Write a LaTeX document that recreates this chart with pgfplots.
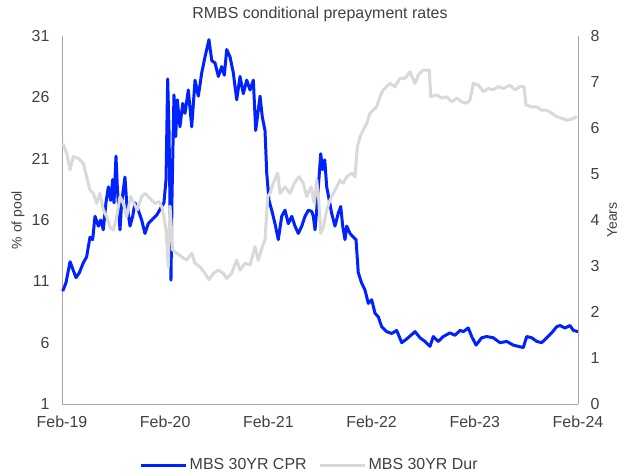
\documentclass[border=0pt]{standalone}
\usepackage{pgfplots}
\usepackage{pgfplotstable}
\pgfplotsset{compat=1.18}
\usepackage{fontspec}
\setmainfont{Liberation Sans}
\definecolor{cprblue}{RGB}{0,34,255}
\definecolor{durgray}{RGB}{217,217,217}
\definecolor{axgray}{RGB}{166,166,166}
\definecolor{txt}{RGB}{64,64,64}

\pgfplotstableread{
t v
0.007 10.2
0.039 10.9
0.078 12.6
0.109 11.9
0.136 11.3
0.168 11.7
0.206 12.5
0.239 13.0
0.271 14.6
0.297 14.4
0.320 16.3
0.352 15.5
0.375 16.0
0.400 15.2
0.426 17.4
0.449 18.7
0.472 17.6
0.491 19.3
0.504 17.4
0.523 21.2
0.536 18.7
0.562 15.2
0.578 17.4
0.610 19.5
0.627 17.4
0.659 15.5
0.685 16.3
0.707 17.4
0.739 16.8
0.772 16.0
0.804 14.9
0.836 15.7
0.869 16.0
0.918 16.4
0.966 17.1
0.988 17.4
1.008 19.3
1.024 27.5
1.037 23.3
1.056 11.1
1.066 17.9
1.085 26.2
1.102 22.8
1.117 25.8
1.143 23.6
1.170 25.5
1.192 24.7
1.224 26.6
1.257 23.6
1.289 27.4
1.321 26.1
1.354 28.0
1.386 29.3
1.424 30.7
1.451 29.0
1.483 28.8
1.515 27.7
1.547 28.5
1.573 27.8
1.596 29.9
1.628 29.3
1.660 28.0
1.693 25.8
1.725 27.7
1.757 26.3
1.790 27.4
1.822 26.6
1.854 27.4
1.877 23.3
1.919 26.1
1.941 24.4
1.967 23.3
1.984 19.8
2.006 17.6
2.032 16.8
2.064 15.7
2.096 14.4
2.129 16.3
2.161 16.8
2.193 15.7
2.226 16.3
2.258 15.5
2.290 14.9
2.323 15.5
2.355 16.3
2.387 16.8
2.420 16.7
2.435 16.3
2.452 15.2
2.468 16.8
2.507 21.4
2.526 20.1
2.546 20.9
2.565 18.7
2.590 17.6
2.613 16.55
2.645 15.5
2.677 16.55
2.701 17.1
2.720 15.5
2.742 14.4
2.759 15.5
2.791 14.9
2.823 14.6
2.849 14.4
2.871 11.7
2.904 10.85
2.936 10.3
2.968 9.2
3.001 9.5
3.033 8.4
3.065 8.1
3.098 7.3
3.146 6.9
3.195 6.75
3.243 7.0
3.292 6.0
3.340 6.3
3.421 6.9
3.469 6.4
3.517 6.1
3.566 5.7
3.598 6.5
3.646 6.1
3.695 6.5
3.760 6.8
3.808 6.6
3.857 7.0
3.889 6.9
3.937 7.2
3.970 6.5
4.012 5.8
4.067 6.4
4.115 6.5
4.179 6.4
4.244 6.0
4.309 6.1
4.373 5.8
4.421 5.7
4.470 5.6
4.503 6.5
4.551 6.4
4.600 6.1
4.648 6.0
4.697 6.4
4.745 6.8
4.793 7.3
4.826 7.4
4.874 7.2
4.922 7.4
4.955 7.0
5.000 6.9
}\cprdata

\pgfplotstableread{
t v
0.007 5.67
0.046 5.45
0.078 5.09
0.109 5.38
0.158 5.34
0.206 5.23
0.239 4.94
0.271 4.65
0.303 4.58
0.336 4.36
0.368 4.58
0.400 4.22
0.433 4.07
0.465 3.85
0.497 3.78
0.530 4.07
0.562 4.51
0.594 4.36
0.627 4.07
0.666 4.51
0.698 4.36
0.730 4.22
0.772 4.51
0.804 4.58
0.853 4.47
0.901 4.36
0.943 4.40
0.966 4.29
0.988 4.07
1.008 3.78
1.030 2.98
1.047 4.30
1.073 3.35
1.111 3.28
1.160 3.20
1.208 3.13
1.257 3.28
1.289 3.06
1.337 2.98
1.386 2.84
1.424 2.70
1.466 2.84
1.515 2.91
1.563 2.84
1.596 2.73
1.644 2.84
1.693 3.13
1.725 2.91
1.773 3.06
1.822 3.02
1.870 3.42
1.902 3.13
1.941 3.42
1.967 3.57
1.993 4.51
2.016 4.58
2.047 4.80
2.090 5.02
2.112 4.58
2.161 4.72
2.209 4.58
2.251 4.80
2.297 4.94
2.338 4.80
2.371 4.51
2.413 4.72
2.445 4.36
2.468 4.87
2.486 4.50
2.507 3.71
2.532 3.85
2.565 4.22
2.597 4.43
2.629 4.58
2.662 4.72
2.694 4.87
2.726 4.80
2.759 4.94
2.807 5.02
2.839 4.94
2.862 5.59
2.888 5.81
2.920 5.96
2.953 6.10
2.984 6.32
3.016 6.39
3.049 6.46
3.081 6.68
3.113 6.83
3.146 6.90
3.178 6.97
3.227 6.90
3.275 7.08
3.324 7.08
3.372 7.22
3.421 6.97
3.452 7.15
3.501 7.26
3.559 7.26
3.573 6.68
3.631 6.72
3.679 6.65
3.728 6.68
3.776 6.57
3.825 6.65
3.873 6.57
3.922 6.54
3.953 6.61
3.986 6.97
4.035 6.93
4.083 6.79
4.131 6.86
4.179 6.83
4.228 6.90
4.276 6.86
4.341 6.93
4.390 6.83
4.438 6.90
4.477 6.90
4.496 6.50
4.551 6.46
4.600 6.46
4.648 6.39
4.697 6.39
4.745 6.32
4.793 6.25
4.842 6.21
4.891 6.17
4.939 6.19
4.988 6.25
}\durdata

\begin{document}
\begin{tikzpicture}[font=\fontsize{16}{19}\selectfont, text=txt]
\path[use as bounding box] (-62bp,-70bp) rectangle (568bp,404bp);
\pgfplotsset{
  base/.style={
    scale only axis, width=516bp, height=368bp,
    xmin=0, xmax=5, clip=false,
    axis line style={axgray, line width=0.8bp, -},
    major tick length=0pt,
    tick label style={font=\fontsize{16}{19}\selectfont, text=txt},
    /pgf/number format/assume math mode=true,
  },
}
\begin{axis}[base,
  axis x line*=bottom, axis y line*=left,
  ymin=1, ymax=31, ytick={1,6,11,16,21,26,31},
  xtick={0,1,2,3,4,5},
  xticklabels={Feb-19,Feb-20,Feb-21,Feb-22,Feb-23,Feb-24},
  xticklabel style={yshift=-8bp},
  yticklabel style={xshift=-9bp},
  title={RMBS conditional prepayment rates},
  every axis title/.style={at={(axis description cs:0.5,1.06)}, anchor=center, font=\fontsize{16}{19}\selectfont},
  ylabel={\% of pool},
  every axis y label/.style={at={(axis description cs:-0.085,0.5)}, rotate=90, anchor=center, font=\fontsize{14}{17}\selectfont},
  legend style={at={(axis description cs:0.48,-0.166)}, anchor=center, draw=none, fill=none,
    legend columns=2, font=\fontsize{16}{19}\selectfont, text=txt,
    /tikz/every even column/.append style={column sep=10bp},
    /tikz/every odd column/.append style={column sep=0bp}},
  legend image code/.code={\draw[#1] (0bp,0bp) -- (45bp,0bp);},
]
\addplot[cprblue, line width=3bp, line join=round] table[x=t,y=v] {\cprdata};
\addlegendentry{MBS 30YR CPR}
\addlegendimage{durgray, line width=3bp}
\addlegendentry{MBS 30YR Dur}
\end{axis}
\begin{axis}[base,
  axis x line=none, axis y line*=right,
  ymin=0, ymax=8, ytick={0,1,2,3,4,5,6,7,8},
  yticklabel style={xshift=9bp},
  ylabel={Years},
  every axis y label/.style={at={(axis description cs:1.066,0.5)}, rotate=90, anchor=center, font=\fontsize{14}{17}\selectfont},
]
\addplot[durgray, line width=3bp, line join=round] table[x=t,y=v] {\durdata};
\end{axis}
\end{tikzpicture}
\end{document}
